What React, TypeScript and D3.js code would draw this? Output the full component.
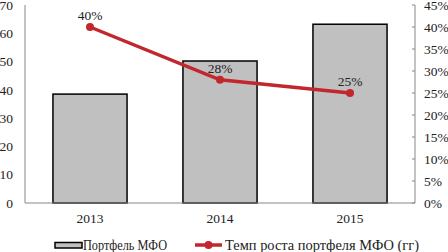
import React from "react";
import * as d3 from "d3";

const categories = ["2013", "2014", "2015"];
const portfolio = [38.5, 50.2, 63.2];
const growth = [40, 28, 25];
const leftTicks = [0, 10, 20, 30, 40, 50, 60, 70];
const rightTicks = [0, 5, 10, 15, 20, 25, 30, 35, 40, 45];
const legendLabels = ["Портфель МФО", "Темп роста портфеля МФО (гг)"];

export default function App() {
  const W = 448, H = 252;
  const left = 25, right = 415, top = 5, bottom = 203;
  const x = d3.scaleBand<string>().domain(categories).range([left, right]).paddingInner(0.43).paddingOuter(0.215);
  const xc = d3.scalePoint<string>().domain(categories).range([left, right]).padding(0.5);
  const yL = d3.scaleLinear().domain([0, 70]).range([bottom, top]);
  const yR = d3.scaleLinear().domain([0, 45]).range([bottom, top]);
  const line = d3.line<number>().x((_, i) => xc(categories[i])!).y((d) => yR(d));
  const font = "'Liberation Serif', 'Times New Roman', serif";
  const red = "#C1272D";
  return (
    <svg width={W} height={H} style={{ position: "absolute", left: 0, top: 0, fontFamily: font }}>
      <rect width={W} height={H} fill="#fff" />
      {portfolio.map((v, i) => (
        <rect key={i} x={x(categories[i])} y={yL(v)} width={x.bandwidth()} height={bottom - yL(v)}
          fill="#C0C0C0" stroke="#000" strokeWidth={1.5} />
      ))}
      <line x1={left} x2={left} y1={top} y2={bottom} stroke="#888" />
      <line x1={right} x2={right} y1={top} y2={bottom} stroke="#888" />
      <line x1={left} x2={right} y1={bottom} y2={bottom} stroke="#888" />
      {leftTicks.map((t) => (
        <text key={t} x={13} y={yL(t)} dy="0.35em" textAnchor="end" fontSize={13.5} fill="#222">{t}</text>
      ))}
      {rightTicks.map((t) => (
        <g key={t}>
          <line x1={right - 3} x2={right} y1={yR(t)} y2={yR(t)} stroke="#888" />
          <text x={424} y={yR(t)} dy="0.35em" textAnchor="start" fontSize={13.5} fill="#222">{t}%</text>
        </g>
      ))}
      {categories.map((c) => (
        <text key={c} x={xc(c)} y={218} dy="0.35em" textAnchor="middle" fontSize={13.5} fill="#222">{c}</text>
      ))}
      <path d={line(growth)!} fill="none" stroke={red} strokeWidth={3.5} />
      {growth.map((g, i) => (
        <g key={i}>
          <circle cx={xc(categories[i])} cy={yR(g)} r={4} fill={red} />
          <text x={xc(categories[i])} y={yR(g) - 12} dy="0.35em" textAnchor="middle" fontSize={13.5} fill="#222">{g}%</text>
        </g>
      ))}
      <rect x={55} y={242.5} width={27} height={5.5} fill="#C0C0C0" stroke="#000" strokeWidth={1.5} />
      <text x={83} y={245} dy="0.35em" fontSize={14} fill="#222" textLength={84} lengthAdjust="spacingAndGlyphs">{legendLabels[0]}</text>
      <line x1={195} x2={222} y1={245} y2={245} stroke={red} strokeWidth={3.5} />
      <circle cx={208.5} cy={245} r={4} fill={red} />
      <text x={225} y={245} dy="0.35em" fontSize={14} fill="#222" textLength={194} lengthAdjust="spacingAndGlyphs">{legendLabels[1]}</text>
    </svg>
  );
}
